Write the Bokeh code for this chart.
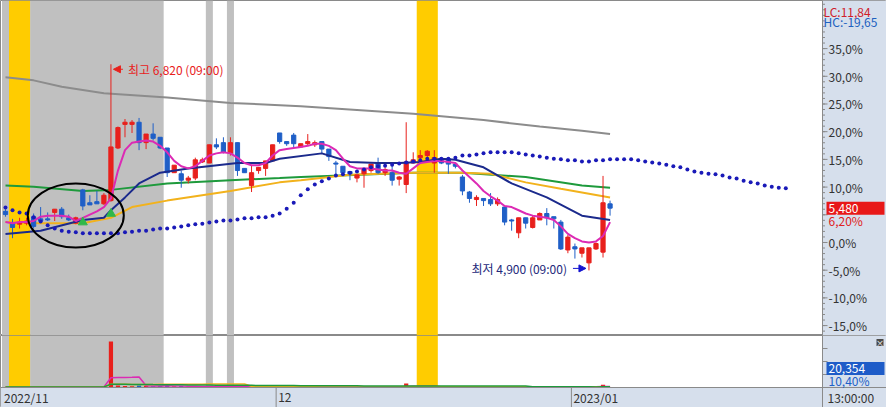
import numpy as np
import pandas as pd
from bokeh.plotting import figure
from bokeh.layouts import column
from bokeh.models import Range1d, Arrow, NormalHead
from bokeh.core.properties import value
from bokeh.embed import file_html
from bokeh.resources import INLINE

# ---------------- data (prices in KRW, 2 bars per trading day) ----------------
BASE_PRICE = 5160          # reference price for the % axis

OPEN = [5450, 5340, 5330, 5340, 5400, 5380, 5380, 5440, 5470, 5390,
        5340, 5650, 5530, 5540, 5520, 5550, 6040, 6260, 6260, 6280,
        6090, 6170, 6140, 6040, 5810, 5800, 5740, 5760, 5910, 5900,
        6070, 6090, 5990, 6090, 5850, 5690, 5830, 5850, 5920, 6180,
        6100, 6160, 6050, 6080, 6070, 6100, 6030, 5900, 5870, 5820,
        5760, 5800, 5830, 5900, 5810, 5810, 5750, 5700, 5900, 5950,
        5970, 5900, 5940, 5940, 5890, 5770, 5630, 5560, 5570, 5560,
        5520, 5490, 5370, 5250, 5390, 5300, 5370, 5430, 5400, 5350,
        5090, 5120, 5060, 4970, 5100, 5070, 5520]
HIGH = [5470, 5380, 5390, 5390, 5430, 5490, 5440, 5470, 5490, 5420,
        5400, 5660, 5600, 5640, 5620, 6820, 6240, 6310, 6300, 6320,
        6170, 6270, 6140, 6040, 5880, 5830, 5780, 5950, 5950, 6070,
        6130, 6140, 6140, 6090, 5850, 5880, 5860, 5920, 6070, 6180,
        6100, 6180, 6080, 6170, 6110, 6100, 6030, 5920, 5870, 5820,
        5790, 5850, 5890, 5950, 5860, 5900, 5780, 6280, 6000, 6020,
        6020, 6020, 5950, 5950, 5900, 5790, 5640, 5600, 5570, 5620,
        5580, 5490, 5380, 5390, 5390, 5410, 5440, 5480, 5400, 5370,
        5230, 5150, 5110, 5110, 5160, 5780, 5550]
LOW = [5400, 5200, 5290, 5320, 5290, 5360, 5360, 5360, 5380, 5360,
       5330, 5460, 5510, 5520, 5510, 5540, 6030, 6140, 6180, 6020,
       6030, 6110, 6030, 5770, 5810, 5670, 5710, 5740, 5900, 5900,
       6030, 5990, 5970, 5780, 5810, 5630, 5800, 5780, 5920, 6080,
       6060, 6040, 6050, 6060, 6050, 5990, 5920, 5780, 5780, 5740,
       5720, 5670, 5810, 5800, 5780, 5690, 5690, 5620, 5900, 5900,
       5950, 5810, 5890, 5800, 5850, 5600, 5530, 5500, 5500, 5500,
       5500, 5320, 5270, 5200, 5290, 5290, 5370, 5320, 5290, 5090,
       5060, 5010, 5020, 4900, 5090, 5020, 5410]
CLOSE = [5420, 5300, 5350, 5360, 5310, 5360, 5370, 5470, 5400, 5370,
         5390, 5500, 5510, 5520, 5600, 6050, 6230, 6280, 6280, 6090,
         6170, 6130, 6040, 5810, 5880, 5740, 5760, 5930, 5930, 6070,
         6050, 6000, 6090, 5830, 5810, 5810, 5860, 5920, 6070, 6100,
         6080, 6080, 6080, 6100, 6090, 6030, 5960, 5890, 5810, 5800,
         5790, 5850, 5890, 5810, 5840, 5740, 5770, 5910, 5930, 5970,
         6010, 5950, 5900, 5890, 5870, 5640, 5570, 5580, 5550, 5520,
         5560, 5350, 5360, 5390, 5340, 5390, 5430, 5390, 5380, 5100,
         5210, 5100, 5110, 5110, 5150, 5530, 5480]
VOLUME = [31000, 42000, 28000, 35000, 40000, 26000, 22000, 33000, 30000, 24000,
          36000, 52000, 30000, 34000, 45000, 3000000, 125000, 92000, 84000, 138000,
          110000, 88000, 96000, 120000, 82000, 94000, 50000, 62000, 40000, 58000,
          36000, 44000, 52000, 70000, 30000, 48000, 28000, 34000, 46000, 40000,
          26000, 38000, 22000, 24000, 20000, 30000, 36000, 28000, 34000, 25000,
          22000, 40000, 30000, 36000, 21000, 33000, 20000, 255000, 48000, 42000,
          38000, 52000, 26000, 30000, 18000, 56000, 34000, 20000, 18000, 28000,
          22000, 44000, 30000, 52000, 26000, 38000, 27000, 24000, 16000, 48000,
          46000, 30000, 36000, 58000, 40000, 185000, 20354]

# short moving average (one value per bar)
MA_SHORT = [5350, 5340, 5350, 5350, 5360, 5400, 5410, 5410, 5410, 5400,
            5360, 5390, 5420, 5450, 5490, 5570, 5830, 6020, 6090, 6100,
            6110, 6100, 6060, 6000, 5920, 5870, 5850, 5870, 5920, 5970,
            5990, 6000, 5990, 5950, 5900, 5880, 5880, 5900, 5970, 6020,
            6030, 6040, 6050, 6060, 6080, 6080, 6060, 6020, 5940, 5870,
            5850, 5850, 5850, 5840, 5830, 5830, 5810, 5800, 5850, 5900,
            5910, 5920, 5920, 5910, 5900, 5830, 5770, 5710, 5640, 5590,
            5550, 5500, 5490, 5460, 5430, 5410, 5400, 5390, 5370, 5310,
            5240, 5200, 5170, 5160, 5170, 5220, 5350]
# other averages, read at selected bars
MA_MID_X = [0, 5, 11, 14, 15, 17, 19, 22, 26, 33, 37, 39, 45, 49, 53, 56, 59, 62, 64, 68, 72, 77, 82, 86]
MA_MID_Y = [5240, 5270, 5370, 5390, 5460, 5580, 5710, 5810, 5850, 5900, 5900, 5940, 5990, 5910,
            5900, 5900, 5910, 5940, 5930, 5860, 5710, 5580, 5410, 5370]
MA_20_X = [0, 4, 11, 15, 18, 23, 32, 39, 42, 49, 58, 65, 69, 74, 79, 86]
MA_20_Y = [5350, 5340, 5340, 5390, 5490, 5550, 5640, 5720, 5740, 5790, 5810, 5810, 5800, 5720, 5660, 5580]
MA_60_X = [0, 4, 11, 15, 23, 32, 39, 42, 58, 65, 74, 82, 86]
MA_60_Y = [5690, 5680, 5640, 5650, 5710, 5740, 5760, 5770, 5810, 5810, 5770, 5690, 5670]
MA_120_X = [0, 4, 8, 14, 23, 32, 42, 58, 68, 76, 82, 86]
MA_120_Y = [6700, 6670, 6610, 6550, 6510, 6460, 6430, 6360, 6300, 6240, 6200, 6170]
# leading (dotted) line, one value per bar, runs 25 bars beyond the last candle
LEAD = [5485, 5460, 5440, 5430, 5395, 5355, 5320, 5290, 5270, 5260,
        5255, 5245, 5245, 5245, 5245, 5245, 5245, 5255, 5260, 5270,
        5270, 5280, 5290, 5290, 5300, 5310, 5320, 5330, 5335, 5345,
        5355, 5365, 5365, 5375, 5385, 5385, 5395, 5395, 5410, 5430,
        5475, 5530, 5600, 5655, 5700, 5730, 5755, 5785, 5795, 5810,
        5820, 5840, 5860, 5870, 5875, 5885, 5895, 5905, 5915, 5925,
        5940, 5940, 5940, 5940, 5950, 5970, 5970, 5980, 5990, 6000,
        6000, 6000, 6000, 5990, 5980, 5970, 5960, 5950, 5940, 5935,
        5925, 5925, 5915, 5915, 5925, 5925, 5935, 5935, 5935, 5935,
        5925, 5915, 5905, 5895, 5885, 5870, 5860, 5840, 5820, 5810,
        5800, 5795, 5785, 5765, 5755, 5735, 5720, 5710, 5690, 5680,
        5670, 5665]

GRAY_BARS = [0] + list(range(4, 23)) + [29, 32]
YELLOW_BARS = [1, 2, 3, 59, 60, 61]
SIGNAL_BARS = [11, 15]
MONTH_LABELS = ["2022/11", "12", "2023/01"]
MONTH_FIRST_BAR = [0, 39, 81]
PCT_TICKS = list(range(-15, 40, 5))
TIME_LABEL = "13:00:00"
VOL_RATIO_LABEL = "10,40%"

# ---------------- layout / styles ----------------
FONT = "Noto Sans CJK KR"
RED = "#e8201c"
BLUE = "#1f5fc7"
PANEL_BG = "#d6dfec"
EDGE = "#8a8a8a"
W = 886
FRAME_W = 822               # chart area width (right of it: value panel)
H_PRICE, H_VOL, H_BAND = 335, 52, 20
X0, X1 = -0.71, 116.22       # visible bar range of the chart area
PX = (X1 - X0) / FRAME_W     # bars per pixel
XF = X0 + W * PX
PCT_MIN, PCT_MAX = -16.79, 43.68
y0 = BASE_PRICE * (1 + PCT_MIN / 100)
y1 = BASE_PRICE * (1 + PCT_MAX / 100)
PY = (y1 - y0) / H_PRICE      # won per pixel
VMAX = 3_400_000
VPY = VMAX / H_VOL
VB = -H_BAND * VPY

o = np.array(OPEN); c = np.array(CLOSE); h = np.array(HIGH); l = np.array(LOW)
N = len(c)
idx = np.arange(N)
up = c >= o
colors = [RED if u else BLUE for u in up]


def runs(bars):
    bars = sorted(bars)
    out = []
    start = prev = bars[0]
    for b in bars[1:]:
        if b == prev + 1:
            prev = b
            continue
        out.append((start, prev))
        start = prev = b
    out.append((start, prev))
    return out


def bands(fig, bottom, top):
    for bars, col in ((GRAY_BARS, "#c0c0c0"), (YELLOW_BARS, "#ffcc00")):
        rr = runs(bars)
        fig.quad(left=[a - 0.5 for a, b in rr], right=[b + 0.5 for a, b in rr],
                 bottom=bottom, top=top, fill_color=col, line_color=None)


def make_fig(height, x_range, y_range):
    f = figure(width=W, height=height, x_range=x_range, y_range=y_range,
               output_backend="svg", toolbar_location=None,
               x_axis_location=None, y_axis_location=None,
               min_border=0, min_border_left=0, min_border_right=0,
               min_border_top=0, min_border_bottom=0)
    f.grid.visible = False
    f.background_fill_color = "white"
    f.border_fill_color = "white"
    f.outline_line_color = EDGE
    return f


def txt(fig, x, y, s, color="#333333", align="left", baseline="middle", size="12px"):
    fig.text(x=[x], y=[y], text=[s], text_font=value(FONT), text_font_size=size,
             text_color=color, text_align=align, text_baseline=baseline)


def fmt_pct(v, nd=1):
    v = round(v, nd)
    if abs(v) < 0.5 * 10 ** (-nd):
        v = 0.0
    return f"{v:.{nd}f}".replace(".", ",") + "%"


# ---------------- price panel ----------------
p = make_fig(H_PRICE, Range1d(X0, XF), Range1d(y0, y1))
bands(p, y0, y1)

p.line(MA_120_X, MA_120_Y, line_color="#8c8c8c", line_width=2)
p.line(MA_60_X, MA_60_Y, line_color="#1e9a3c", line_width=2)
p.line(MA_20_X, MA_20_Y, line_color="#f2b21c", line_width=2)

p.segment(idx, l, idx, h, line_color=colors, line_width=1)
p.vbar(x=idx, width=0.6, top=np.maximum(o, c), bottom=np.minimum(o, c),
       fill_color=colors, line_color=colors, line_width=1)

p.line(MA_MID_X, MA_MID_Y, line_color="#1b2a8c", line_width=2)
p.line(idx, MA_SHORT, line_color="#dc2ab4", line_width=2)
p.scatter(np.arange(len(LEAD)), LEAD, size=4, marker="circle",
          fill_color="#1a1ab8", line_color=None)

p.scatter(SIGNAL_BARS, [LOW[i] - 12 * PY for i in SIGNAL_BARS], marker="triangle",
          size=9, fill_color="#2fb84a", line_color="#2fb84a")

e_lo = min(LOW[1:15]); e_hi = max(HIGH[1:15])
p.ellipse(x=[10], y=[(e_lo + e_hi) / 2 - 2 * PY], width=[13.66], height=[(e_hi - e_lo) * 1.3],
          fill_color=None, line_color="black", line_width=2)

hi_i = int(np.argmax(h)); hi = int(h[hi_i])
lo_i = int(np.argmin(l)); lo = int(l[lo_i])
hy = hi - 5 * PY
p.add_layout(Arrow(end=NormalHead(size=7, fill_color=RED, line_color=RED),
                   x_start=hi_i + 12 * PX, x_end=hi_i + 2.5 * PX, y_start=hy, y_end=hy,
                   line_color=RED, line_width=1))
txt(p, hi_i + 17 * PX, hy, f"최고 {hi:,} (09:00)", color=RED)
ly = lo + 2 * PY
p.add_layout(Arrow(end=NormalHead(size=7, fill_color="#1515d0", line_color="#1515d0"),
                   x_start=lo_i - 16 * PX, x_end=lo_i - 3 * PX, y_start=ly, y_end=ly,
                   line_color="#1515d0", line_width=1))
txt(p, lo_i - 22 * PX, ly, f"최저 {lo:,} (09:00)", color="#23287a", align="right")

# value panel on the right (percent scale)
last = int(c[-1])
p.quad(left=[X1], right=[XF], bottom=[y0], top=[y1], fill_color=PANEL_BG, line_color=None)
p.segment(x0=[X1], y0=[y0], x1=[X1], y1=[y1], line_color=EDGE, line_width=1)
minor = [BASE_PRICE * (1 + k / 100) for k in range(-16, 44)]
p.segment(x0=[X1] * len(minor), y0=minor, x1=[X1 + 2.5 * PX] * len(minor), y1=minor,
          line_color=EDGE, line_width=1)
major = [BASE_PRICE * (1 + k / 100) for k in PCT_TICKS]
p.segment(x0=[X1] * len(major), y0=major, x1=[X1 + 5 * PX] * len(major), y1=major,
          line_color=EDGE, line_width=1)
# tick labels hidden where the current-price tag sits
shown = [(m, k) for m, k in zip(major, PCT_TICKS) if abs(m - last) > 15 * PY]
p.text(x=[X1 + 6 * PX] * len(shown), y=[m for m, k in shown], text=[fmt_pct(k) for m, k in shown],
       text_font=value(FONT), text_font_size="12px", text_color="#333333",
       text_align="left", text_baseline="middle")

lc = (last / lo - 1) * 100
hc = (last / hi - 1) * 100
chg = (last / BASE_PRICE - 1) * 100
txt(p, X1 + 1 * PX, y1 - 2 * PY, f"LC:{lc:.2f}".replace(".", ","), color="#d0202a", baseline="top")
txt(p, X1 + 1 * PX, y1 - 12.5 * PY, f"HC:{hc:.2f}".replace(".", ","), color="#2060c0", baseline="top")
p.quad(left=[X1 + 4 * PX], right=[X1 + 62 * PX], bottom=[last - 6.5 * PY], top=[last + 6.5 * PY],
       fill_color="#e81818", line_color=None)
txt(p, X1 + 6 * PX, last, f"{last:,}", color="white")
txt(p, X1 + 6 * PX, last - 12.5 * PY, fmt_pct(chg, 2), color="#e02020")

# ---------------- volume panel + date band ----------------
v = make_fig(H_VOL + H_BAND, p.x_range, Range1d(VB, VMAX))
bands(v, 0, VMAX)
v.vbar(x=idx, width=0.6, top=VOLUME, bottom=0, fill_color=colors, line_color=None)
vol = pd.Series(VOLUME, dtype=float)
v.line(idx, vol.rolling(5, min_periods=1).mean(), line_color="#dc2ab4", line_width=1.5)
v.line(idx, vol.rolling(20, min_periods=1).mean(), line_color="#f2b21c", line_width=1.5)
v.line(idx, vol.rolling(60, min_periods=1).mean(), line_color="#1e9a3c", line_width=1.5)

# date band
v.quad(left=[X0], right=[XF], bottom=[VB], top=[0], fill_color=PANEL_BG, line_color=None)
v.quad(left=[X1], right=[XF], bottom=[0], top=[VMAX], fill_color=PANEL_BG, line_color=None)
v.segment(x0=[X0], y0=[0], x1=[XF], y1=[0], line_color=EDGE, line_width=1)
v.segment(x0=[X1], y0=[VB], x1=[X1], y1=[VMAX], line_color=EDGE, line_width=1)
seps = [b - 0.5 for b in MONTH_FIRST_BAR[1:]]
v.segment(x0=seps, y0=[VB] * len(seps), x1=seps, y1=[0] * len(seps), line_color=EDGE, line_width=1)
lab_x = [max(b - 0.5, X0) + 2 * PX for b in MONTH_FIRST_BAR]
v.text(x=lab_x, y=[VB / 2] * len(lab_x), text=MONTH_LABELS, text_font=value(FONT),
       text_font_size="12px", text_color="#333333", text_align="left", text_baseline="middle")
txt(v, X1 + 5 * PX, VB / 2, TIME_LABEL)

# volume value panel
vt = [VMAX * k / 4 for k in (1, 2, 3)]
v.segment(x0=[X1] * 3, y0=vt, x1=[X1 + 5 * PX] * 3, y1=vt, line_color=EDGE, line_width=1)
v.quad(left=[X1 + 4 * PX], right=[X1 + 62 * PX], bottom=[12.5 * VPY], top=[25.5 * VPY],
       fill_color="#1e5cc8", line_color=None)
txt(v, X1 + 6 * PX, 19 * VPY, f"{VOLUME[-1]:,}", color="white")
txt(v, X1 + 6 * PX, 7 * VPY, VOL_RATIO_LABEL, color="#2060c8")
v.quad(left=[X1 + 54 * PX], right=[X1 + 61 * PX], bottom=[41.5 * VPY], top=[48.5 * VPY],
       fill_color="#4a4a4a", line_color=None)
txt(v, X1 + 57.5 * PX, 45 * VPY, "×", color="white", align="center", size="8px")

layout = column(p, v, spacing=0)
open("out.html", "w").write(file_html(layout, INLINE))
